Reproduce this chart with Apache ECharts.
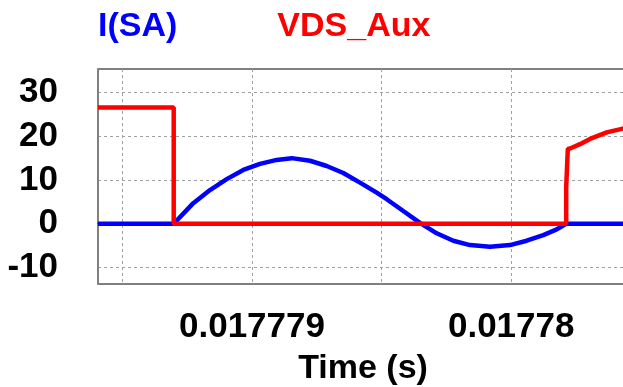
<!DOCTYPE html>
<html>
<head>
<meta charset="utf-8">
<script src="https://cdn.jsdelivr.net/npm/echarts@6/dist/echarts.min.js"></script>
<style>
html,body{margin:0;padding:0;background:#fff;}
#chart{width:623px;height:387px;}
</style>
</head>
<body>
<div id="chart"></div>
<script>
// I(SA) current trace
const iTime = [0.0177784059, 0.0177786980, 0.0177787735, 0.0177788380, 0.0177789024, 0.0177789664,
  0.0177790309, 0.0177790953, 0.0177791532, 0.0177792238, 0.0177792882, 0.0177793522, 0.0177794167,
  0.0177794811, 0.0177795197, 0.0177795837, 0.0177796481, 0.0177797126, 0.0177797766, 0.0177798410,
  0.0177799182, 0.0177799954, 0.0177800598, 0.0177801238, 0.0177801756, 0.0177802122, 0.0177804506];
const iSA = [0, 0, 4.7, 7.7, 10.2, 12.3, 13.7, 14.6, 15.0, 14.4, 13.2, 11.6, 9.4,
  7.1, 5.6, 2.9, 0.2, -2.2, -3.9, -4.9, -5.3, -4.9, -3.9, -2.6, -1.3, 0, 0];

// VDS_Aux voltage trace
const vTime = [0.0177784059, 0.0177786980, 0.0177786980, 0.0177802122, 0.0177802122, 0.0177802184,
  0.0177802184, 0.0177802269, 0.0177802654, 0.0177803040, 0.0177803685, 0.0177804263, 0.0177804506];
const vdsAux = [26.6, 26.6, 0, 0, 8.5, 8.8, 17.1, 17.2, 18.2, 19.4, 20.9, 21.7, 22.0];

// ticks
const xGridTicks = [0.0177785, 0.017779, 0.0177795, 0.01778];
const xLabelTicks = [0.017779, 0.01778];
const yTicks = [-10, 0, 10, 20, 30];
const yMin = -13.8, yMax = 35.4;

const seriesNames = ['I(SA)', 'VDS_Aux'];
const seriesColors = ['#0000ff', '#ff0000'];

const FONT = "'Liberation Sans', Arial, sans-serif";
const zip = (a, b) => a.map((v, i) => [v, b[i]]);

const chart = echarts.init(document.getElementById('chart'), null, {renderer: 'canvas'});
const gridLine = {show: true, lineStyle: {color: '#a0a0a0', width: 1, type: [3, 3]}};

chart.setOption({
  animation: false,
  backgroundColor: '#fff',
  legend: {
    left: 88, top: 5,
    icon: 'none', itemWidth: 0, itemHeight: 0, itemGap: 95,
    selectedMode: false,
    data: seriesNames.map((n, i) => ({name: n, textStyle: {color: seriesColors[i]}})),
    textStyle: {fontSize: 34, fontWeight: 'bold', fontFamily: FONT}
  },
  grid: {left: 98, top: 69, right: -5, bottom: 103, show: true, borderColor: '#000', borderWidth: 1,
         containLabel: false, outerBoundsMode: 'none'},
  xAxis: {
    type: 'value', min: 'dataMin', max: 'dataMax',
    name: 'Time (s)', nameLocation: 'middle', nameGap: 68,
    nameTextStyle: {fontSize: 34, fontWeight: 'bold', fontFamily: FONT, color: '#000'},
    axisLine: {show: true, lineStyle: {color: '#000', width: 1}},
    axisTick: {show: false, customValues: xGridTicks},
    splitLine: Object.assign({customValues: xGridTicks}, gridLine),
    axisLabel: {
      customValues: xLabelTicks, margin: 26,
      fontSize: 35, fontWeight: 'bold', fontFamily: FONT, color: '#000',
      formatter: v => String(+(+v).toPrecision(8))
    }
  },
  yAxis: {
    type: 'value', min: yMin, max: yMax,
    axisLine: {show: true, lineStyle: {color: '#808080', width: 2}},
    axisTick: {show: false, customValues: yTicks},
    splitLine: Object.assign({customValues: yTicks}, gridLine),
    axisLabel: {customValues: yTicks, margin: 40, fontSize: 35, fontWeight: 'bold', fontFamily: FONT, color: '#000'}
  },
  series: [
    {name: seriesNames[0], type: 'line', data: zip(iTime, iSA), showSymbol: false,
     lineStyle: {color: seriesColors[0], width: 4.5}, itemStyle: {color: seriesColors[0]}, z: 2},
    {name: seriesNames[1], type: 'line', data: zip(vTime, vdsAux), showSymbol: false,
     lineStyle: {color: seriesColors[1], width: 4.5}, itemStyle: {color: seriesColors[1]}, z: 3}
  ]
});
</script>
</body>
</html>
